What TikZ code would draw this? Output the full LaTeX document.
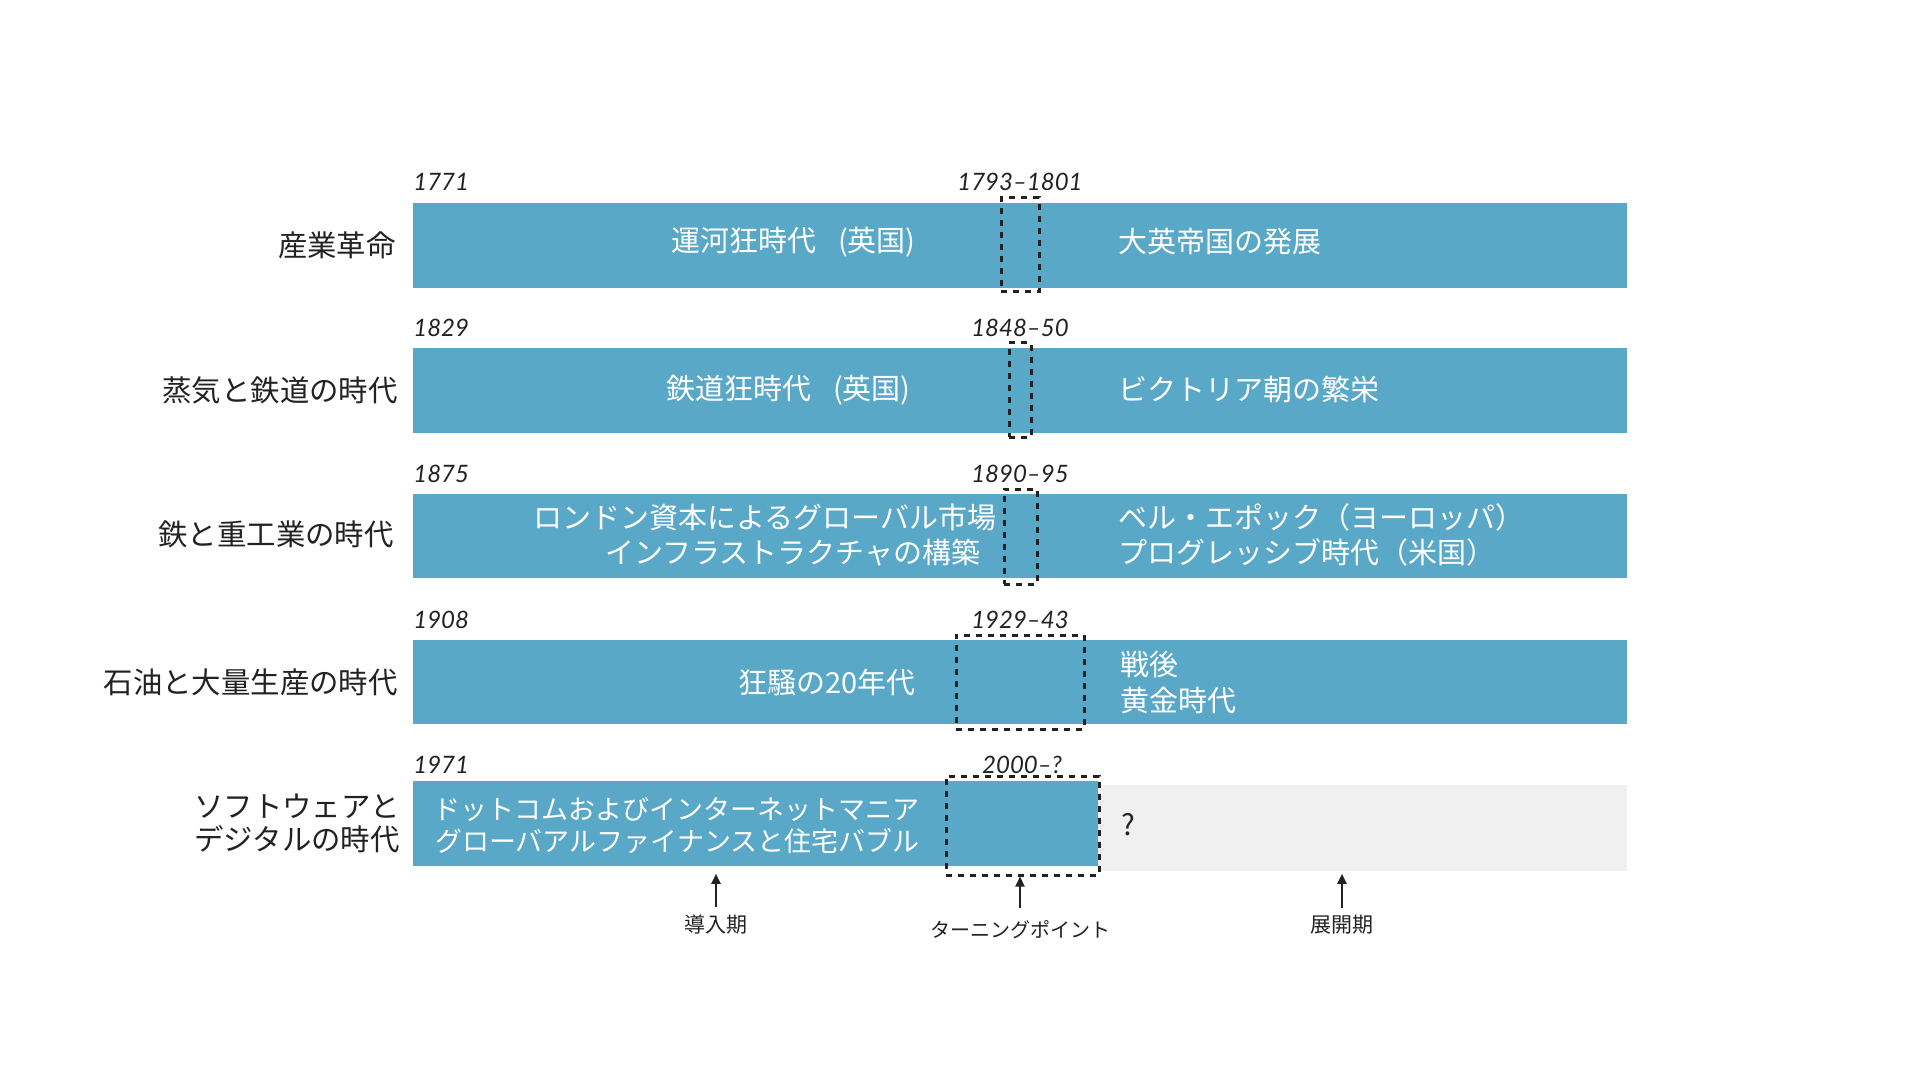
\documentclass[tikz,border=0pt]{standalone}
\usepackage{fontspec}
\setmainfont{Noto Sans CJK JP}
\newfontfamily\latofont{Lato}
\usetikzlibrary{arrows.meta}

\definecolor{barblue}{RGB}{90,168,200}
\definecolor{restgray}{RGB}{240,240,240}
\definecolor{inkgray}{RGB}{34,34,34}

\begin{document}
\begin{tikzpicture}[
x=0.5pt, y=-0.5pt,
bar/.style={
    fill=barblue, inner sep=0, anchor=north west,
    minimum width=607pt, minimum height=42.5pt
},
turn/.style={
    draw=inkgray, dash pattern=on 3pt off 3pt, line width=1.5pt,
    inner sep=0, minimum height=47pt
},
era/.style={text=inkgray, font=\fontsize{14.7}{16.5}\selectfont, anchor=east, align=right, inner sep=0},
phase/.style={text=white, font=\fontsize{14.5}{17.5}\selectfont, inner sep=0},
year/.style={text=inkgray, font=\latofont\itshape\fontsize{12}{13}\selectfont, inner sep=0, anchor=base west},
span/.style={year, anchor=base},
stage/.style={text=inkgray, font=\fontsize{10.5}{12}\selectfont, inner sep=0},
pointer/.style={-{Triangle[length=5pt,width=4.5pt]}, draw=inkgray, line width=1pt}
]
\useasboundingbox (0,0) rectangle (1920,1080);

% bars
\node[bar] (bar1) at (413,203) {};
\node[bar] (bar2) at (413,348) {};
\node[bar, minimum height=42pt] (bar3) at (413,494) {};
\node[bar, minimum height=42pt] (bar4) at (413,640) {};
\node[bar, fill=restgray, minimum width=264.5pt, minimum height=43pt] (rest5) at (1098,785) {};
\node[bar, minimum width=342.5pt] (bar5) at (413,781) {};

% turning points
\node[turn, minimum width=19pt] (turn1) at (1020,245) {};
\node[turn, minimum width=11pt] (turn2) at (1020,390) {};
\node[turn, minimum width=16.5pt, minimum height=47.5pt] (turn3) at (1020.5,536.5) {};
\node[turn, minimum width=64pt] (turn4) at (1020,682) {};
\node[turn, minimum width=76.5pt, minimum height=49.5pt] (turn5) at (1022.5,825.5) {};

% years
\node[year] (start1) at (413,191) {1771};
\node[span] (span1) at (1020,191) {1793–1801};
\node[year] (start2) at (413,336) {1829};
\node[span] (span2) at (1020,336) {1848–50};
\node[year] (start3) at (413,482) {1875};
\node[span] (span3) at (1020,482) {1890–95};
\node[year] (start4) at (413,628) {1908};
\node[span] (span4) at (1020,628) {1929–43};
\node[year] (start5) at (413,773) {1971};
\node[span] (span5) at (1022,773) {2000–?};

% eras
\node[era] (era1) at (396,245.5) {産業革命};
\node[era] (era2) at (398,390.5) {蒸気と鉄道の時代};
\node[era] (era3) at (394,534) {鉄と重工業の時代};
\node[era] (era4) at (398,682) {石油と大量生産の時代};
\node[era] (era5) at (400,823.5) {ソフトウェアと\\デジタルの時代};

% installation side
\node[phase, anchor=east] (mania1) at (916,242) {運河狂時代\hspace{0.75em}(英国)};
\node[phase, anchor=east] (mania2) at (911,390.5) {鉄道狂時代\hspace{0.75em}(英国)};
\node[phase, anchor=east, align=right] (mania3) at (997,535.5) {ロンドン資本によるグローバル市場\\インフラストラクチャの構築\rule{8pt}{0pt}};
\node[phase, anchor=east] (mania4) at (916,682) {狂騒の20年代};
\node[phase, anchor=east, align=right, font=\fontsize{13.5}{16}\selectfont] (mania5) at (920,826) {ドットコムおよびインターネットマニア\\グローバアルファイナンスと住宅バブル};

% deployment side
\node[phase, anchor=west] (boom1) at (1118,242) {大英帝国の発展};
\node[phase, anchor=west] (boom2) at (1118,389.5) {ビクトリア朝の繁栄};
\node[phase, anchor=west, align=left] (boom3) at (1118,535) {ベル・エポック（ヨーロッパ）\\プログレッシブ時代（米国）};
\node[phase, anchor=west, align=left, font=\fontsize{14.5}{18}\selectfont] (boom4) at (1120,682.5) {戦後\\黄金時代};
\node[phase, anchor=west, text=inkgray] (boom5) at (1121,825) {?};

% phases below
\node[stage] (intro) at (716,925) {導入期};
\node[stage, font=\fontsize{10}{12}\selectfont] (tp) at (1020,930) {ターニングポイント};
\node[stage] (deploy) at (1342,925) {展開期};

\draw[pointer, shorten <=3.75pt, shorten >=3.5pt] (intro.north) -- (intro.north |- bar5.south);
\draw[pointer, shorten <=6pt] (tp.north) -- (tp.north |- turn5.south);
\draw[pointer, shorten <=3.75pt, shorten >=1pt] (deploy.north) -- (deploy.north |- rest5.south);
\end{tikzpicture}
\end{document}
